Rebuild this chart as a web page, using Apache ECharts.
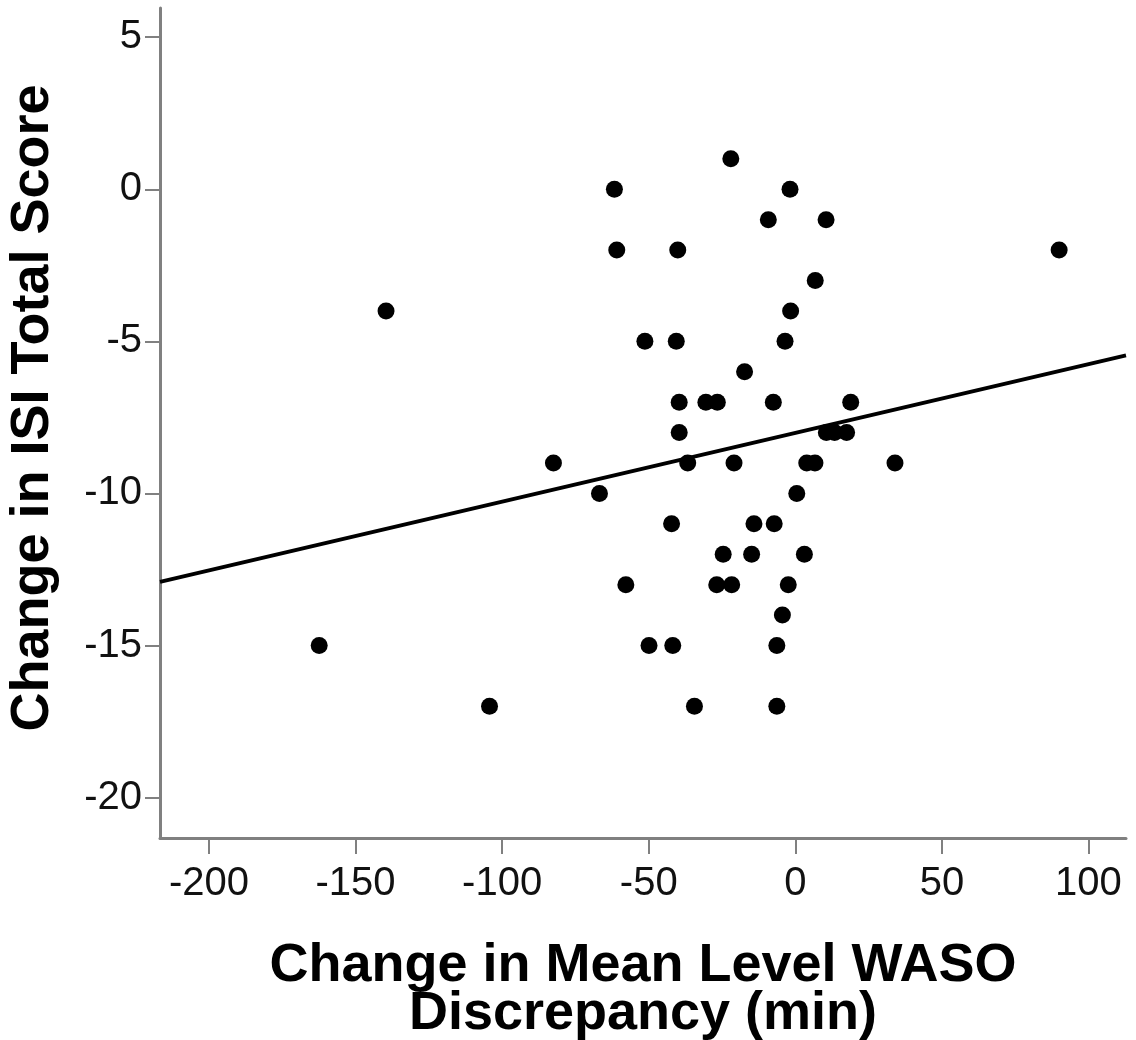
<!DOCTYPE html>
<html>
<head>
<meta charset="utf-8">
<script src="https://cdn.jsdelivr.net/npm/echarts@6/dist/echarts.min.js"></script>
<style>
  html, body { margin: 0; padding: 0; background: #fff; }
  #chart { width: 1136px; height: 1040px; }
</style>
</head>
<body>
<div id="chart"></div>
<script>
// change in mean level WASO discrepancy (min)
const wasoChange = [
  -162.4, -139.6, -104.3, -82.5, -66.8, -61.7, -60.9, -57.8, -51.3, -49.9,
  -42.2, -41.8, -40.6, -40.1, -39.6, -39.6, -36.7, -34.4, -30.5, -26.8,
  -26.6, -24.6, -22.0, -21.7, -20.9, -17.3, -14.9, -14.1, -9.2, -7.5,
  -7.2, -6.3, -6.3, -4.4, -3.5, -2.4, -1.8, -1.6, 0.5, 3.1,
  3.9, 6.7, 6.8, 10.5, 10.6, 13.4, 17.5, 18.9, 34.0, 90.0
];
// change in ISI total score
const isiChange = [
  -15, -4, -17, -9, -10, 0, -2, -13, -5, -15,
  -11, -15, -5, -2, -7, -8, -9, -17, -7, -13,
  -7, -12, 1, -13, -9, -6, -12, -11, -1, -7,
  -11, -15, -17, -14, -5, -13, 0, -4, -10, -12,
  -9, -9, -3, -1, -8, -8, -8, -7, -9, -2
];
const xTicks = [-200, -150, -100, -50, 0, 50, 100];
const yTicks = [-20, -15, -10, -5, 0, 5];
const xRange = [-216.7, 112.8];
const yRange = [-21.33, 5.96];

// fit line
const fitIntercept = -8.01;
const fitSlope = 0.0226;
const fitLine = xRange.map(x => [x, fitIntercept + fitSlope * x]);

const points = wasoChange.map((x, i) => [x, isiChange[i]]);

const chart = echarts.init(document.getElementById('chart'));
const axisColor = '#808080';
const font = 'Liberation Sans, Arial, sans-serif';

chart.setOption({
  animation: false,
  backgroundColor: '#fff',
  grid: { left: 160, right: 10, top: 8, bottom: 202, containLabel: false, outerBoundsMode: 'none' },
  xAxis: {
    type: 'value',
    min: xRange[0],
    max: xRange[1],
    splitLine: { show: false },
    axisLine: { onZero: false, lineStyle: { color: axisColor, width: 3 } },
    axisTick: { customValues: xTicks, length: 16, lineStyle: { color: axisColor, width: 2 } },
    axisLabel: { customValues: xTicks, fontSize: 40, color: '#111', fontFamily: font, margin: 26 },
    name: 'Change in Mean Level WASO\nDiscrepancy (min)',
    nameLocation: 'middle',
    nameGap: 104,
    nameTextStyle: { fontSize: 54, fontWeight: 'bold', color: '#000', fontFamily: font, lineHeight: 48 }
  },
  yAxis: {
    type: 'value',
    min: yRange[0],
    max: yRange[1],
    splitLine: { show: false },
    axisLine: { onZero: false, lineStyle: { color: axisColor, width: 3 } },
    axisTick: { customValues: yTicks, length: 15, lineStyle: { color: axisColor, width: 2 } },
    axisLabel: { customValues: yTicks, fontSize: 40, color: '#111', fontFamily: font, margin: 18, padding: [14, 0, 0, 0] },
    name: 'Change in ISI Total Score',
    nameLocation: 'middle',
    nameGap: 100,
    nameTextStyle: { fontSize: 54, fontWeight: 'bold', color: '#000', fontFamily: font, padding: [0, 0, 0, 30] }
  },
  series: [
    {
      type: 'line',
      data: fitLine,
      symbol: 'none',
      lineStyle: { color: '#000', width: 4 },
      z: 3
    },
    {
      type: 'scatter',
      data: points,
      symbolSize: 17,
      itemStyle: { color: '#000', opacity: 1 },
      z: 2
    }
  ]
});
</script>
</body>
</html>
